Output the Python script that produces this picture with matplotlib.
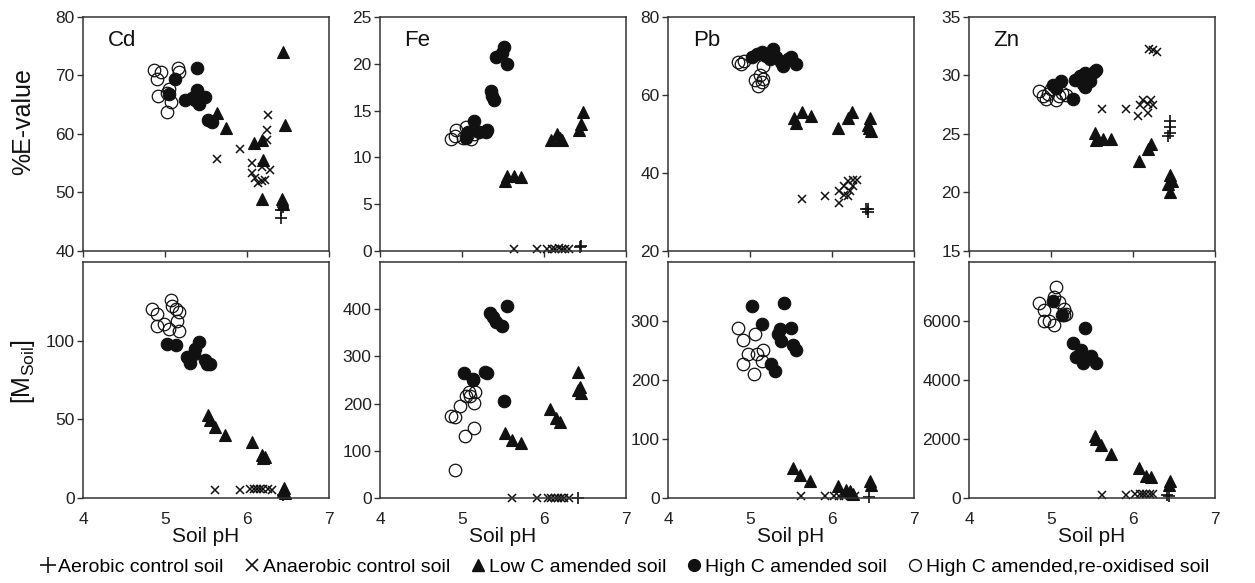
import matplotlib.pyplot as plt
from matplotlib.lines import Line2D

plt.rcParams['font.family'] = ['Liberation Sans', 'DejaVu Sans']

# ---- %E-value (top row), points as (soil pH, value) ----
cd_e_aer = [(6.42, 47.0), (6.42, 45.6), (6.44, 47.6)]
cd_e_ana = [(5.63, 55.8), (5.92, 57.4), (6.06, 55.1), (6.06, 53.3), (6.10, 52.4), (6.14, 51.6), (6.18, 51.9),
            (6.22, 52.2), (6.26, 63.2), (6.25, 60.7), (6.24, 58.9), (6.28, 53.9), (6.18, 54.4)]
cd_e_low = [(6.44, 74.0), (5.64, 63.5), (5.74, 61.0), (6.08, 58.5), (6.18, 59.0), (6.20, 55.6), (6.18, 48.9),
            (6.46, 61.5), (6.43, 48.8), (6.44, 48.0)]
cd_e_high = [(5.12, 69.4), (5.05, 66.8), (5.39, 71.2), (5.25, 65.8), (5.33, 66.1), (5.39, 67.5), (5.41, 65.2),
             (5.49, 66.3), (5.53, 62.4), (5.57, 62.1), (5.37, 65.8)]
cd_e_reox = [(4.87, 70.9), (4.90, 69.4), (4.95, 70.5), (4.92, 66.4), (5.03, 67.0), (5.07, 65.4), (5.16, 71.2),
             (5.17, 70.6), (5.03, 63.7), (5.05, 67.6)]

fe_e_aer = [(6.44, 0.45), (6.45, 0.5)]
fe_e_ana = [(5.63, 0.2), (5.92, 0.2), (6.04, 0.2), (6.10, 0.25), (6.14, 0.2), (6.18, 0.3), (6.22, 0.2),
            (6.26, 0.25), (6.30, 0.2)]
fe_e_low = [(5.53, 7.5), (5.55, 8.0), (5.64, 8.0), (5.72, 7.9), (6.08, 11.8), (6.20, 12.1), (6.22, 11.8),
            (6.16, 12.5), (6.48, 14.8), (6.45, 13.6), (6.43, 12.9)]
fe_e_high = [(5.15, 13.9), (5.05, 12.1), (5.21, 12.7), (5.31, 12.9), (5.29, 12.7), (5.35, 17.1), (5.37, 16.6),
             (5.39, 16.1), (5.41, 20.7), (5.51, 21.8), (5.49, 21.1), (5.55, 20.0), (5.07, 12.7)]
fe_e_reox = [(4.87, 12.0), (4.93, 12.9), (5.01, 12.1), (5.05, 13.2), (5.11, 12.0), (4.91, 12.3), (5.07, 12.5),
             (5.15, 12.5)]

pb_e_aer = [(6.44, 30.7), (6.44, 30.1), (6.42, 30.7)]
pb_e_ana = [(5.63, 33.3), (5.92, 34.2), (6.09, 32.3), (6.09, 35.3), (6.15, 36.6), (6.20, 37.9), (6.26, 38.3),
            (6.30, 38.3), (6.22, 35.3), (6.20, 34.0), (6.26, 36.6), (6.15, 34.4)]
pb_e_low = [(5.54, 54.2), (5.56, 52.9), (5.63, 55.5), (5.74, 54.6), (6.07, 51.6), (6.20, 54.2), (6.24, 55.5),
            (6.46, 54.2), (6.45, 51.6), (6.47, 50.8), (6.44, 52.4)]
pb_e_high = [(5.02, 69.7), (5.08, 70.5), (5.14, 71.0), (5.20, 70.1), (5.28, 71.8), (5.32, 69.7), (5.38, 68.4),
             (5.46, 69.3), (5.50, 69.7), (5.56, 68.0), (5.40, 67.5), (5.24, 69.3)]
pb_e_reox = [(4.85, 68.4), (4.89, 68.0), (4.93, 68.8), (5.16, 67.5), (5.06, 63.7), (5.10, 62.4), (5.16, 64.1),
             (5.14, 63.2), (5.12, 65.0)]

zn_e_aer = [(6.45, 26.1), (6.45, 25.6), (6.45, 25.1), (6.43, 24.8)]
zn_e_ana = [(5.62, 27.1), (5.91, 27.1), (6.06, 26.5), (6.08, 27.5), (6.12, 27.9), (6.18, 26.8), (6.22, 27.9),
            (6.24, 27.5), (6.20, 32.3), (6.24, 32.2), (6.29, 32.0), (6.18, 27.6)]
zn_e_low = [(5.54, 25.1), (5.55, 24.5), (5.63, 24.6), (5.73, 24.6), (6.07, 22.7), (6.18, 23.7), (6.22, 24.1),
            (6.45, 21.5), (6.47, 21.0), (6.45, 20.0), (6.43, 20.7)]
zn_e_high = [(5.02, 29.2), (5.06, 28.9), (5.12, 29.5), (5.27, 28.0), (5.29, 29.6), (5.35, 29.95), (5.41, 30.2),
             (5.41, 29.0), (5.47, 29.5), (5.53, 30.3), (5.55, 30.5), (5.39, 29.3)]
zn_e_reox = [(4.86, 28.7), (4.90, 28.2), (4.96, 28.4), (5.00, 28.8), (5.06, 27.9), (5.14, 28.5), (5.18, 28.3),
             (4.94, 28.0), (5.10, 28.2)]

# ---- [M_Soil] (bottom row) ----
cd_m_aer = [(6.44, 2.1)]
cd_m_ana = [(5.61, 5.3), (5.92, 5.3), (6.04, 5.6), (6.08, 5.6), (6.12, 5.6), (6.16, 5.6), (6.20, 5.6),
            (6.26, 5.6), (6.30, 5.3)]
cd_m_low = [(5.53, 52.6), (5.55, 49.5), (5.61, 45.3), (5.73, 40.0), (6.06, 35.8), (6.18, 27.4), (6.20, 25.3),
            (6.22, 26.3), (6.45, 6.3), (6.47, 3.2), (6.44, 4.2)]
cd_m_high = [(5.03, 97.9), (5.14, 97.3), (5.41, 99.4), (5.37, 94.7), (5.27, 89.5), (5.31, 85.7), (5.35, 91.6),
             (5.49, 87.4), (5.55, 85.3), (5.51, 85.3)]
cd_m_reox = [(4.84, 120.0), (4.90, 117.0), (4.90, 109.5), (4.99, 110.5), (5.07, 125.7), (5.09, 122.0),
             (5.13, 120.0), (5.17, 118.0), (5.15, 112.6), (5.17, 106.3), (5.05, 107.4)]

fe_m_aer = [(6.42, 1.0)]
fe_m_ana = [(5.61, 1.0), (5.92, 1.0), (6.05, 1.0), (6.09, 1.0), (6.13, 1.0), (6.17, 1.0), (6.21, 1.0),
            (6.25, 1.0), (6.30, 1.0)]
fe_m_low = [(5.53, 137.3), (5.61, 123.2), (5.72, 116.2), (6.07, 188.7), (6.15, 169.0), (6.20, 162.0),
            (6.41, 267.6), (6.44, 235.9), (6.45, 221.8), (6.42, 228.9)]
fe_m_high = [(5.03, 264.1), (5.13, 251.4), (5.28, 267.6), (5.30, 264.1), (5.34, 392.3), (5.38, 383.8),
             (5.42, 373.2), (5.49, 364.1), (5.55, 406.3), (5.51, 206.3), (5.14, 250.0)]
fe_m_reox = [(4.86, 174.6), (4.92, 172.5), (4.97, 195.8), (5.04, 130.3), (5.05, 216.9), (5.08, 225.4),
             (5.16, 225.4), (5.15, 202.1), (5.15, 149.3), (4.92, 59.9), (5.10, 217.0)]

pb_m_aer = [(6.45, 1.0)]
pb_m_ana = [(5.62, 4.0), (5.92, 4.0), (6.03, 4.0), (6.09, 4.0), (6.15, 4.0), (6.22, 4.0), (6.28, 4.0)]
pb_m_low = [(5.52, 50.9), (5.61, 39.6), (5.73, 28.3), (6.07, 19.8), (6.17, 14.1), (6.22, 11.3), (6.26, 7.4),
            (6.46, 29.4), (6.47, 22.6)]
pb_m_high = [(5.02, 325.4), (5.14, 294.3), (5.41, 331.1), (5.36, 285.8), (5.34, 277.3), (5.38, 266.0),
             (5.50, 287.5), (5.52, 258.6), (5.56, 250.1), (5.26, 226.4), (5.30, 215.1)]
pb_m_reox = [(4.85, 288.6), (4.91, 267.1), (4.98, 244.5), (4.91, 226.4), (5.06, 278.4), (5.05, 209.4),
             (5.16, 250.1), (5.14, 232.0), (5.08, 244.5)]

zn_m_aer = [(6.42, 114), (6.44, 60)]
zn_m_ana = [(5.62, 114), (5.92, 114), (6.03, 120), (6.08, 120), (6.12, 120), (6.16, 120), (6.21, 120),
            (6.25, 120)]
zn_m_low = [(5.54, 2102), (5.55, 1989), (5.61, 1784), (5.73, 1500), (6.07, 1023), (6.16, 739), (6.22, 705),
            (6.45, 591), (6.44, 455)]
zn_m_high = [(5.02, 6682), (5.14, 6193), (5.42, 5761), (5.27, 5250), (5.31, 4795), (5.37, 5000), (5.39, 4568),
             (5.49, 4830), (5.55, 4568), (5.43, 4773)]
zn_m_reox = [(4.86, 6614), (4.92, 6364), (4.92, 6000), (4.98, 6000), (5.06, 7136), (5.04, 5852), (5.10, 6648),
             (5.16, 6420), (5.16, 6193), (5.18, 6250), (5.04, 6818)]

metals = ['Cd', 'Fe', 'Pb', 'Zn']
e_groups = [
    [cd_e_aer, cd_e_ana, cd_e_low, cd_e_high, cd_e_reox],
    [fe_e_aer, fe_e_ana, fe_e_low, fe_e_high, fe_e_reox],
    [pb_e_aer, pb_e_ana, pb_e_low, pb_e_high, pb_e_reox],
    [zn_e_aer, zn_e_ana, zn_e_low, zn_e_high, zn_e_reox],
]
m_groups = [
    [cd_m_aer, cd_m_ana, cd_m_low, cd_m_high, cd_m_reox],
    [fe_m_aer, fe_m_ana, fe_m_low, fe_m_high, fe_m_reox],
    [pb_m_aer, pb_m_ana, pb_m_low, pb_m_high, pb_m_reox],
    [zn_m_aer, zn_m_ana, zn_m_low, zn_m_high, zn_m_reox],
]
e_lims = [(40, 80, 10), (0, 25, 5), (20, 80, 20), (15, 35, 5)]
m_lims = [(0, 150, 50), (0, 500, 100), (0, 400, 100), (0, 8000, 2000)]
m_ticks_max = [100, 400, 300, 6000]

legend_labels = ['Aerobic control soil', 'Anaerobic control soil', 'Low C amended soil',
                 'High C amended soil', 'High C amended,re-oxidised soil']

ink = '#111111'
styles = [
    dict(marker='+', ms=9, mew=1.2, color=ink),
    dict(marker='x', ms=5.5, mew=1.1, color=ink),
    dict(marker='^', ms=9, mew=0.8, color=ink, mfc=ink),
    dict(marker='o', ms=9, mew=0.8, color=ink, mfc=ink),
    dict(marker='o', ms=9, mew=0.9, color=ink, mfc='none'),
]


def draw(ax, groups):
    for pts, st in zip(groups, styles):
        xs = [p[0] for p in pts]
        ys = [p[1] for p in pts]
        ax.plot(xs, ys, ls='none', clip_on=False, **st)


def style_axes(ax):
    for sp in ax.spines.values():
        sp.set_color('#333333')
        sp.set_linewidth(1.1)
    ax.set_xlim(4, 7)
    ax.set_xticks([4, 5, 6, 7])
    ax.tick_params(direction='out', length=4, width=1, colors='#333333', labelsize=12.5,
                   labelcolor='#222222')


fig = plt.figure(figsize=(12.55, 5.83), dpi=100)
lefts = [0.0661, 0.3028, 0.5323, 0.7721]
w = 0.196

for i, name in enumerate(metals):
    ax = fig.add_axes([lefts[i], 0.5695, w, 0.4015])
    draw(ax, e_groups[i])
    style_axes(ax)
    lo, hi, st = e_lims[i]
    ax.set_ylim(lo, hi)
    ax.set_yticks(list(range(lo, hi + 1, st)))
    ax.tick_params(axis='y', pad=2)
    ax.tick_params(axis='x', labelbottom=False)
    ax.text(0.1, 0.9, name, transform=ax.transAxes, fontsize=16, va='center', ha='left', color=ink)

    ax2 = fig.add_axes([lefts[i], 0.1458, w, 0.4048])
    draw(ax2, m_groups[i])
    style_axes(ax2)
    lo, hi, st = m_lims[i]
    ax2.set_ylim(lo, hi)
    ax2.set_yticks(list(range(lo, m_ticks_max[i] + 1, st)))
    ax2.tick_params(axis='y', pad=2)
    ax2.tick_params(axis='x', length=0, pad=10)
    ax2.set_xlabel('Soil pH', fontsize=15, labelpad=0, color=ink)

fig.text(0.0183, 0.791, '%E-value', rotation=90, fontsize=18, va='center', ha='center', color=ink)
fig.text(0.0183, 0.362, r'[M$_{\mathregular{Soil}}$]', rotation=90, fontsize=18, va='center', ha='center',
         color=ink)

handles = [
    Line2D([], [], ls='none', marker='+', ms=11, mew=1.2, color=ink),
    Line2D([], [], ls='none', marker='x', ms=8, mew=1.2, color=ink),
    Line2D([], [], ls='none', marker='^', ms=8, color=ink, mfc=ink),
    Line2D([], [], ls='none', marker='o', ms=8.5, color=ink, mfc=ink),
    Line2D([], [], ls='none', marker='o', ms=8.5, mew=1.0, color=ink, mfc='none'),
]
fig.legend(handles, legend_labels, loc='center', bbox_to_anchor=(0.498, 0.0275), ncol=5, frameon=False,
           fontsize=14, handlelength=0.7, handletextpad=0.2, columnspacing=1.1, borderpad=0)

fig.savefig('out.png', dpi=100)
